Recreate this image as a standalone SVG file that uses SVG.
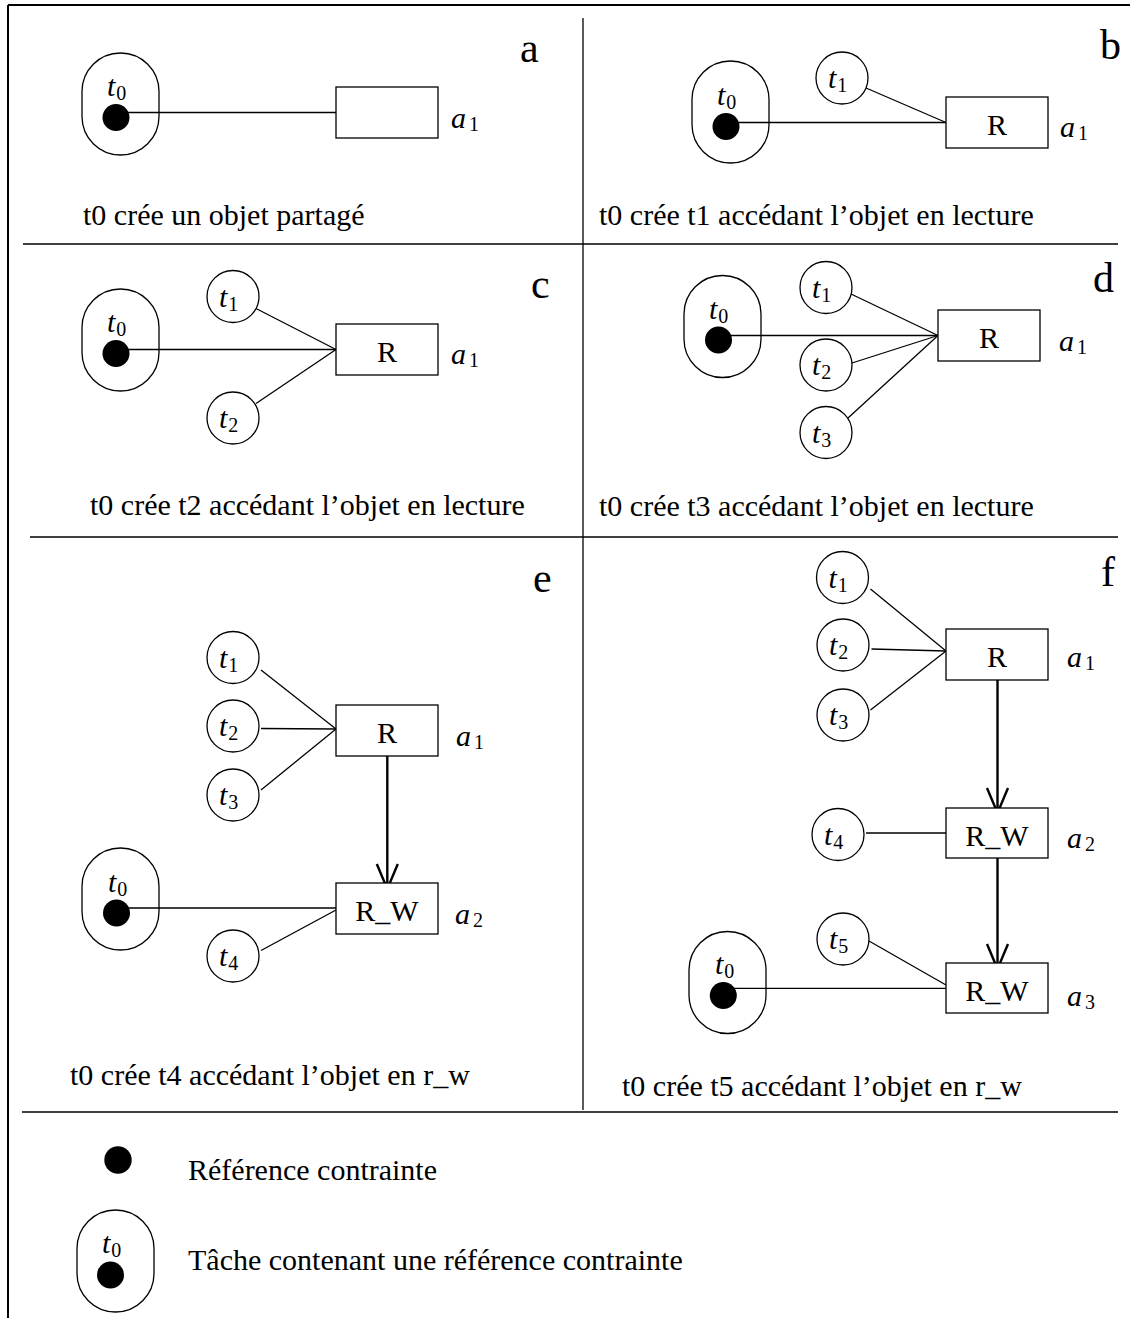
<svg xmlns="http://www.w3.org/2000/svg" width="1130" height="1318" viewBox="0 0 1130 1318">
<style>
.ln{stroke:#000;stroke-width:1.3;fill:none}
.fr{stroke:#000;stroke-width:2;fill:none}
.dv{stroke:#000;stroke-width:1.5;fill:none}
.ar{stroke:#000;stroke-width:2.4;fill:none}
.bx{fill:#fff;stroke:#000;stroke-width:1.3}
.ov{fill:none;stroke:#000;stroke-width:1.3}
.dot{fill:#000}
text{font-family:"Liberation Serif","Times New Roman",serif;fill:#000}
.cap{font-size:30px}
.let{font-size:42px}
.lbl{font-size:30px;text-anchor:middle}
.mi{font-size:30px;font-style:italic}
.sub{font-size:20px;font-style:normal}
</style>
<defs>
<marker id="vh" markerUnits="userSpaceOnUse" orient="auto" viewBox="-28 -13 30 26" markerWidth="30" markerHeight="26" refX="0" refY="0">
<path d="M-25,-10.5 L0,0 L-25,10.5" fill="none" stroke="#000" stroke-width="2.4"/>
</marker>
</defs>
<rect width="1130" height="1318" fill="#fff"/>
<g id="frame">
<line class="fr" x1="8" y1="5" x2="1130" y2="5"/>
<line class="fr" x1="8" y1="5" x2="8" y2="1318"/>
<line class="ln" x1="583" y1="18" x2="583" y2="1110"/>
<line class="dv" x1="23" y1="244" x2="1118" y2="244"/>
<line class="dv" x1="30" y1="537" x2="1118" y2="537"/>
<line class="dv" x1="22" y1="1112" x2="1118" y2="1112"/>
</g>
<g id="connectors">
<!-- a -->
<line class="ln" x1="116" y1="112.5" x2="336" y2="112.5"/>
<!-- b -->
<line class="ln" x1="726" y1="122.5" x2="946" y2="122.5"/>
<line class="ln" x1="866" y1="88" x2="946" y2="122.5"/>
<!-- c -->
<line class="ln" x1="116" y1="349.5" x2="336" y2="349.5"/>
<line class="ln" x1="256" y1="308.5" x2="336" y2="349.5"/>
<line class="ln" x1="256" y1="403.5" x2="336" y2="349.5"/>
<!-- d -->
<line class="ln" x1="718.5" y1="335.5" x2="938" y2="335.5"/>
<line class="ln" x1="851" y1="294" x2="938" y2="335.5"/>
<line class="ln" x1="852" y1="363" x2="938" y2="335.5"/>
<line class="ln" x1="848" y1="418" x2="938" y2="335.5"/>
<!-- e -->
<line class="ln" x1="261" y1="670" x2="336" y2="729"/>
<line class="ln" x1="261" y1="728.5" x2="336" y2="729"/>
<line class="ln" x1="261" y1="790" x2="336" y2="729"/>
<line class="ar" x1="387.3" y1="756" x2="387.3" y2="889" marker-end="url(#vh)"/>
<line class="ln" x1="116.5" y1="908" x2="336" y2="908"/>
<line class="ln" x1="261" y1="950.5" x2="336" y2="910"/>
<!-- f -->
<line class="ln" x1="870.5" y1="589" x2="946" y2="651"/>
<line class="ln" x1="871.5" y1="649" x2="946" y2="651"/>
<line class="ln" x1="870.5" y1="710" x2="946" y2="651"/>
<line class="ar" x1="997.5" y1="680" x2="997.5" y2="813" marker-end="url(#vh)"/>
<line class="ln" x1="866" y1="833" x2="946" y2="833"/>
<line class="ar" x1="997.5" y1="858" x2="997.5" y2="969" marker-end="url(#vh)"/>
<line class="ln" x1="869" y1="941" x2="946" y2="985"/>
<line class="ln" x1="723.3" y1="988.3" x2="946" y2="988.3"/>
</g>
<g id="panel-a">
<rect class="ov" x="82" y="53" width="77" height="102" rx="38.5"/>
<circle class="dot" cx="116" cy="117.5" r="13.5"/>
<text class="mi" x="107" y="96">t<tspan class="sub" dx="1" dy="4">0</tspan></text>
<rect class="bx" x="336" y="87" width="102" height="51"/>
<text class="mi" x="451" y="128">a<tspan class="sub" dx="3" dy="3">1</tspan></text>
<text class="let" x="520" y="62">a</text>
<text class="cap" x="83" y="225">t0 crée un objet partagé</text>
</g>
<g id="panel-b">
<rect class="ov" x="692" y="61" width="77" height="102" rx="38.5"/>
<circle class="dot" cx="726" cy="126.5" r="13.5"/>
<text class="mi" x="717" y="105">t<tspan class="sub" dx="1" dy="4">0</tspan></text>
<circle class="ov" cx="842" cy="78" r="26"/>
<text class="mi" x="828" y="88">t<tspan class="sub" dx="1" dy="4">1</tspan></text>
<rect class="bx" x="946" y="97" width="102" height="51"/>
<text class="lbl" x="997" y="135">R</text>
<text class="mi" x="1060" y="137">a<tspan class="sub" dx="3" dy="3">1</tspan></text>
<text class="let" x="1100" y="59">b</text>
<text class="cap" x="599" y="225">t0 crée t1 accédant l’objet en lecture</text>
</g>
<g id="panel-c">
<rect class="ov" x="82" y="289" width="77" height="102" rx="38.5"/>
<circle class="dot" cx="116" cy="353.5" r="13.5"/>
<text class="mi" x="107" y="332">t<tspan class="sub" dx="1" dy="4">0</tspan></text>
<circle class="ov" cx="233" cy="296.5" r="26"/>
<text class="mi" x="219" y="306.5">t<tspan class="sub" dx="1" dy="4">1</tspan></text>
<circle class="ov" cx="233" cy="418" r="26"/>
<text class="mi" x="219" y="428">t<tspan class="sub" dx="1" dy="4">2</tspan></text>
<rect class="bx" x="336" y="324" width="102" height="51"/>
<text class="lbl" x="387" y="362">R</text>
<text class="mi" x="451" y="364">a<tspan class="sub" dx="3" dy="3">1</tspan></text>
<text class="let" x="531" y="298">c</text>
<text class="cap" x="90" y="515">t0 crée t2 accédant l’objet en lecture</text>
</g>
<g id="panel-d">
<rect class="ov" x="684" y="275.5" width="77" height="102" rx="38.5"/>
<circle class="dot" cx="718.5" cy="340" r="13.5"/>
<text class="mi" x="709" y="318.5">t<tspan class="sub" dx="1" dy="4">0</tspan></text>
<circle class="ov" cx="826" cy="287.5" r="26"/>
<text class="mi" x="812" y="297.5">t<tspan class="sub" dx="1" dy="4">1</tspan></text>
<circle class="ov" cx="826" cy="365" r="26"/>
<text class="mi" x="812" y="375">t<tspan class="sub" dx="1" dy="4">2</tspan></text>
<circle class="ov" cx="826" cy="432.5" r="26"/>
<text class="mi" x="812" y="442.5">t<tspan class="sub" dx="1" dy="4">3</tspan></text>
<rect class="bx" x="938" y="310" width="102" height="51"/>
<text class="lbl" x="989" y="348">R</text>
<text class="mi" x="1059" y="351">a<tspan class="sub" dx="3" dy="3">1</tspan></text>
<text class="let" x="1093" y="292">d</text>
<text class="cap" x="599" y="516">t0 crée t3 accédant l’objet en lecture</text>
</g>
<g id="panel-e">
<circle class="ov" cx="233" cy="657.5" r="26"/>
<text class="mi" x="219" y="667.5">t<tspan class="sub" dx="1" dy="4">1</tspan></text>
<circle class="ov" cx="233" cy="726" r="26"/>
<text class="mi" x="219" y="736">t<tspan class="sub" dx="1" dy="4">2</tspan></text>
<circle class="ov" cx="233" cy="795" r="26"/>
<text class="mi" x="219" y="805">t<tspan class="sub" dx="1" dy="4">3</tspan></text>
<rect class="bx" x="336" y="705" width="102" height="51"/>
<text class="lbl" x="387" y="743">R</text>
<text class="mi" x="456" y="746">a<tspan class="sub" dx="3" dy="3">1</tspan></text>
<rect class="bx" x="336" y="883" width="102" height="51"/>
<text class="lbl" x="387" y="921">R_W</text>
<text class="mi" x="455" y="924">a<tspan class="sub" dx="3" dy="3">2</tspan></text>
<rect class="ov" x="82" y="848" width="77" height="102" rx="38.5"/>
<circle class="dot" cx="116.5" cy="913" r="13.5"/>
<text class="mi" x="108" y="891.5">t<tspan class="sub" dx="1" dy="4">0</tspan></text>
<circle class="ov" cx="233" cy="956" r="26"/>
<text class="mi" x="219" y="966">t<tspan class="sub" dx="1" dy="4">4</tspan></text>
<text class="let" x="533" y="592">e</text>
<text class="cap" x="70" y="1085">t0 crée t4 accédant l’objet en r_w</text>
</g>
<g id="panel-f">
<circle class="ov" cx="842.5" cy="577.5" r="26"/>
<text class="mi" x="828.5" y="587.5">t<tspan class="sub" dx="1" dy="4">1</tspan></text>
<circle class="ov" cx="843" cy="645" r="26"/>
<text class="mi" x="829" y="655">t<tspan class="sub" dx="1" dy="4">2</tspan></text>
<circle class="ov" cx="843" cy="715" r="26"/>
<text class="mi" x="829" y="725">t<tspan class="sub" dx="1" dy="4">3</tspan></text>
<rect class="bx" x="946" y="629" width="102" height="51"/>
<text class="lbl" x="997" y="667">R</text>
<text class="mi" x="1067" y="667">a<tspan class="sub" dx="3" dy="3">1</tspan></text>
<circle class="ov" cx="838" cy="834.5" r="26"/>
<text class="mi" x="824" y="844.5">t<tspan class="sub" dx="1" dy="4">4</tspan></text>
<rect class="bx" x="946" y="808" width="102" height="50"/>
<text class="lbl" x="997" y="846">R_W</text>
<text class="mi" x="1067" y="848">a<tspan class="sub" dx="3" dy="3">2</tspan></text>
<circle class="ov" cx="843" cy="939" r="26"/>
<text class="mi" x="829" y="949">t<tspan class="sub" dx="1" dy="4">5</tspan></text>
<rect class="bx" x="946" y="963" width="102" height="50"/>
<text class="lbl" x="997" y="1001">R_W</text>
<text class="mi" x="1067" y="1006">a<tspan class="sub" dx="3" dy="3">3</tspan></text>
<rect class="ov" x="689" y="931.5" width="77" height="102" rx="38.5"/>
<circle class="dot" cx="723.3" cy="995.5" r="13.5"/>
<text class="mi" x="715" y="974">t<tspan class="sub" dx="1" dy="4">0</tspan></text>
<text class="let" x="1101" y="586">f</text>
<text class="cap" x="622" y="1096">t0 crée t5 accédant l’objet en r_w</text>
</g>
<g id="legend">
<circle class="dot" cx="118" cy="1160" r="13.7"/>
<text class="cap" x="188" y="1180">Référence contrainte</text>
<rect class="ov" x="77" y="1210" width="77" height="102" rx="38.5"/>
<circle class="dot" cx="110.5" cy="1275" r="13.5"/>
<text class="mi" x="102" y="1253">t<tspan class="sub" dx="1" dy="4">0</tspan></text>
<text class="cap" x="188" y="1270">Tâche contenant une référence contrainte</text>
</g>
</svg>
